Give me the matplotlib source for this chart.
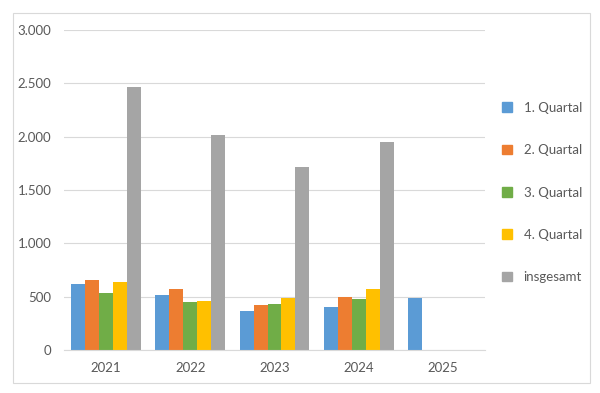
import matplotlib.pyplot as plt
import matplotlib.patches as patches
import matplotlib.ticker as ticker
import numpy as np

plt.rcParams['font.family'] = ['Lato', 'DejaVu Sans']

years = ['2021', '2022', '2023', '2024', '2025']
q1 = [617, 518, 368, 399, 486]
q2 = [655, 574, 424, 493, np.nan]
q3 = [536, 449, 430, 480, np.nan]
q4 = [642, 461, 483, 571, np.nan]
total = [2463, 2017, 1712, 1952, np.nan]

series = [q1, q2, q3, q4, total]
names = ['1. Quartal', '2. Quartal', '3. Quartal', '4. Quartal', 'insgesamt']
colors = ['#5B9BD5', '#ED7D31', '#70AD47', '#FFC000', '#A5A5A5']

txt = '#595959'
grid = '#D9D9D9'

fig = plt.figure(figsize=(6, 3.93), dpi=100)
fig.patches.append(patches.Rectangle((13/600, 1-383/393), 577/600, 370/393,
                                     transform=fig.transFigure, fill=False,
                                     edgecolor=grid, linewidth=0.8))
ax = fig.add_axes([64/600, 1-350/393, 421/600, 320/393])

x = np.arange(len(years))
w = 0.166
for i, (vals, name, c) in enumerate(zip(series, names, colors)):
    ax.bar(x + (i - 2) * w, vals, width=w, color=c, label=name, zorder=2)

ax.set_xlim(-0.5, len(years) - 0.5)
ax.set_ylim(0, 3000)
ax.set_yticks(np.arange(0, 3001, 500))
ax.yaxis.set_major_formatter(ticker.FuncFormatter(lambda v, p: f'{int(v):,}'.replace(',', '.')))
ax.set_xticks(x)
ax.set_xticklabels(years)
ax.grid(axis='y', color=grid, linewidth=0.8, zorder=0)
for s in ['top', 'right', 'left']:
    ax.spines[s].set_visible(False)
ax.spines['bottom'].set_color(grid)
ax.spines['bottom'].set_linewidth(0.8)
ax.tick_params(length=0, colors=txt, labelsize=9.5)
ax.tick_params(axis='y', pad=9)
ax.tick_params(axis='x', pad=9)

handles = [patches.Patch(color=c) for c in colors]
fig.legend(handles, names, loc='upper left', bbox_to_anchor=(490/600, 1-90/393),
           frameon=False, handlelength=0.75, handleheight=0.75, handletextpad=0.9,
           labelspacing=2.3, fontsize=9.5, labelcolor=txt)

fig.savefig('out.png', dpi=100)
